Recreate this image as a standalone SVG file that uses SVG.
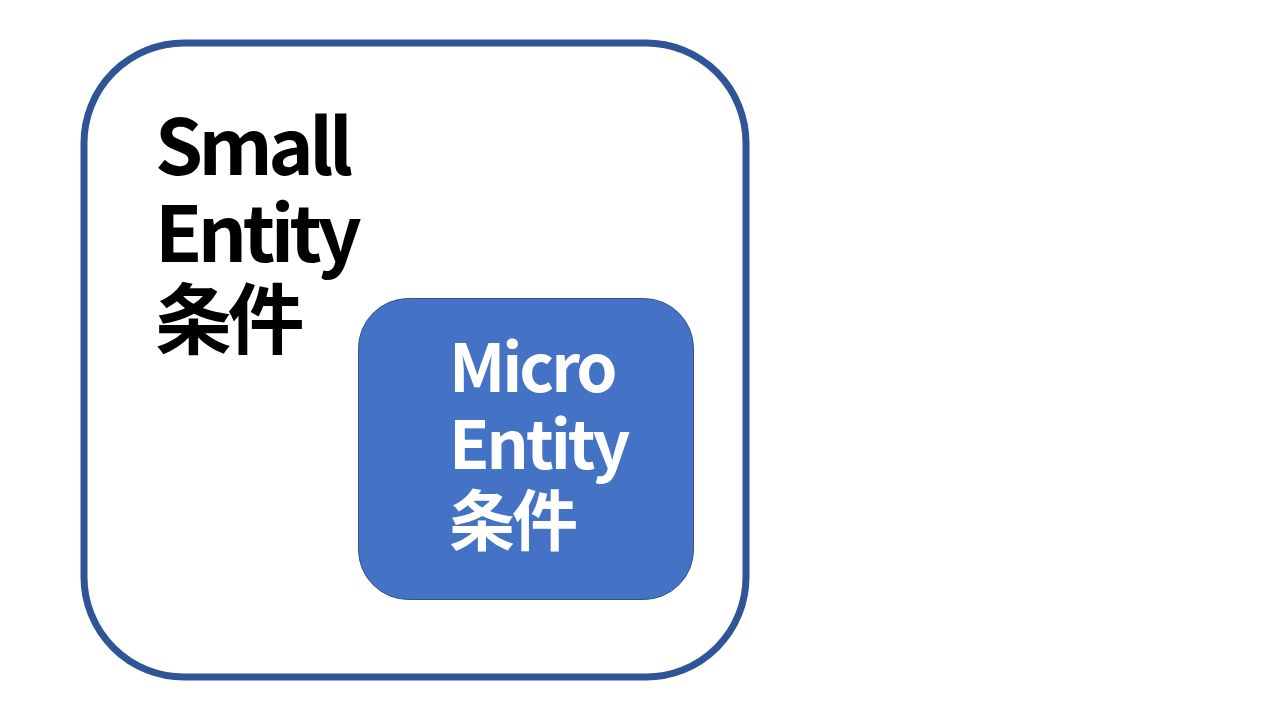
<svg xmlns="http://www.w3.org/2000/svg" width="1280" height="720" viewBox="0 0 1280 720">
<style>
.t{font-family:"Noto Sans CJK JP","Noto Sans",sans-serif;font-weight:bold}
.big{font-size:77px;fill:#000;letter-spacing:-4.5px}
.mid{font-size:66px;fill:#fff;letter-spacing:-3px}
</style>
<rect width="1280" height="720" fill="#fff"/>
<g id="small-entity">
<rect x="84" y="43" width="662" height="634" rx="100" ry="100" fill="#fff" stroke="#2F5597" stroke-width="7"/>
<text class="t big"><tspan x="155" y="175">Small</tspan><tspan x="155" y="262">Entity</tspan><tspan x="155" y="348">条件</tspan></text>
</g>
<g id="micro-entity">
<rect x="358.5" y="298.5" width="335" height="301" rx="50" ry="50" fill="#4472C4" stroke="#2F528F" stroke-width="1"/>
<text class="t mid"><tspan x="449" y="392">Micro</tspan><tspan x="449" y="469">Entity</tspan><tspan x="449" y="545">条件</tspan></text>
</g>
<g id="connectors"/>
</svg>
